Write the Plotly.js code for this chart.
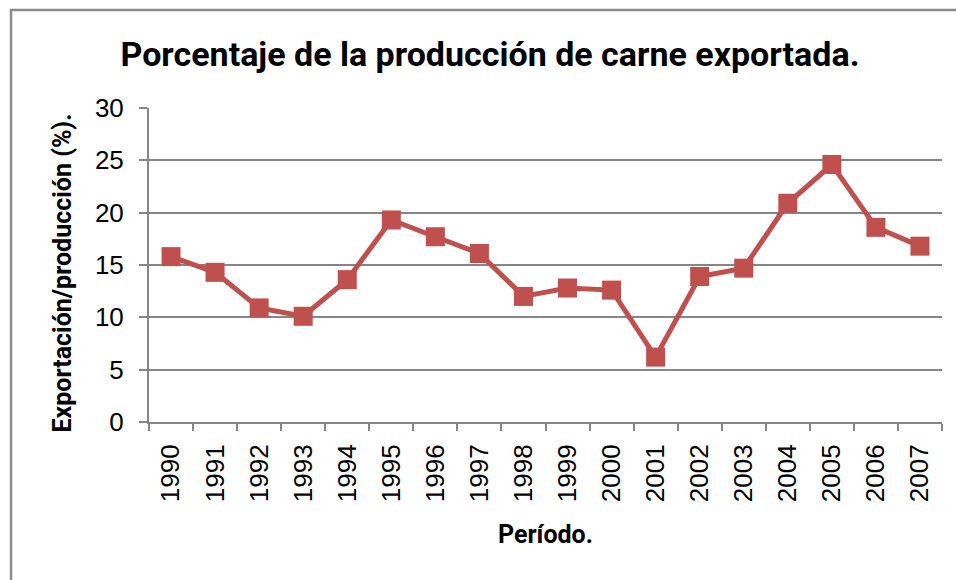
<!DOCTYPE html>
<html>
<head>
<meta charset="utf-8">
<script src="https://cdn.plot.ly/plotly-3.0.1.min.js"></script>
<style>
  html, body { margin: 0; padding: 0; background: #ffffff; }
  #chart { width: 956px; height: 580px; }
</style>
</head>
<body>
<div id="chart"></div>
<script>
// Data
const years = ["1990","1991","1992","1993","1994","1995","1996","1997","1998","1999",
               "2000","2001","2002","2003","2004","2005","2006","2007"];
const exportPct = [15.8, 14.3, 10.9, 10.1, 13.6, 19.3, 17.7, 16.1, 12.0, 12.8,
                   12.6, 6.2, 13.9, 14.7, 20.9, 24.6, 18.6, 16.8];
const yTicks = [0, 5, 10, 15, 20, 25, 30];

const titleText = "Porcentaje de la producción de carne exportada.";
const xTitle = "Período.";
const yTitle = "Exportación/producción (%).";

const bold = "Roboto, 'Liberation Sans', Arial, sans-serif";
const tickFontFam = "'Liberation Sans', Arial, sans-serif";
const grid = "#868686";

const trace = {
  x: years,
  y: exportPct,
  type: "scatter",
  mode: "lines+markers",
  line: { color: "#C0504D", width: 5 },
  marker: { symbol: "square", size: 19, color: "#C0504D", line: { width: 0 } },
  hoverinfo: "x+y"
};

const layout = {
  width: 956,
  height: 580,
  margin: { l: 149, r: 14, t: 108, b: 158 },
  paper_bgcolor: "#ffffff",
  plot_bgcolor: "#ffffff",
  showlegend: false,
  title: {
    text: "<b>" + titleText + "</b>",
    font: { family: bold, size: 34, color: "#000000" },
    x: 0.43, xref: "paper", xanchor: "center",
    y: 55, yref: "container", yanchor: "middle"
  },
  xaxis: {
    type: "category",
    range: [-0.5, years.length - 0.5],
    showline: true, linecolor: grid, linewidth: 2,
    ticks: "outside", tickson: "boundaries", ticklen: 7, tickcolor: grid, tickwidth: 2,
    tickangle: -90,
    tickfont: { family: tickFontFam, size: 26, color: "#000000" },
    ticklabelstandoff: 10,
    showgrid: false,
    title: { text: "<b>" + xTitle + "</b>", font: { family: bold, size: 25, color: "#000000" }, standoff: 24 }
  },
  yaxis: {
    range: [0, 30],
    tickvals: yTicks,
    showline: true, linecolor: grid, linewidth: 2,
    ticks: "outside", ticklen: 8, tickcolor: grid, tickwidth: 2,
    tickfont: { family: tickFontFam, size: 26, color: "#000000" },
    ticklabelstandoff: 10,
    showgrid: true, gridcolor: grid, gridwidth: 2,
    zeroline: false
  },
  annotations: [{
    text: "<b>" + yTitle + "</b>",
    xref: "paper", yref: "paper",
    x: -0.1097, y: 0.473,
    xanchor: "center", yanchor: "middle",
    textangle: -90, showarrow: false,
    font: { family: bold, size: 25, color: "#000000" }
  }],
  shapes: [{
    type: "rect", xref: "paper", yref: "paper",
    x0: -0.174, x1: 1.03, y0: -0.56, y1: 1.312,
    line: { color: "#8c8c8c", width: 2.5 },
    fillcolor: "rgba(0,0,0,0)", layer: "below"
  }]
};

Plotly.newPlot("chart", [trace], layout, { displayModeBar: false, staticPlot: true });
</script>
</body>
</html>
